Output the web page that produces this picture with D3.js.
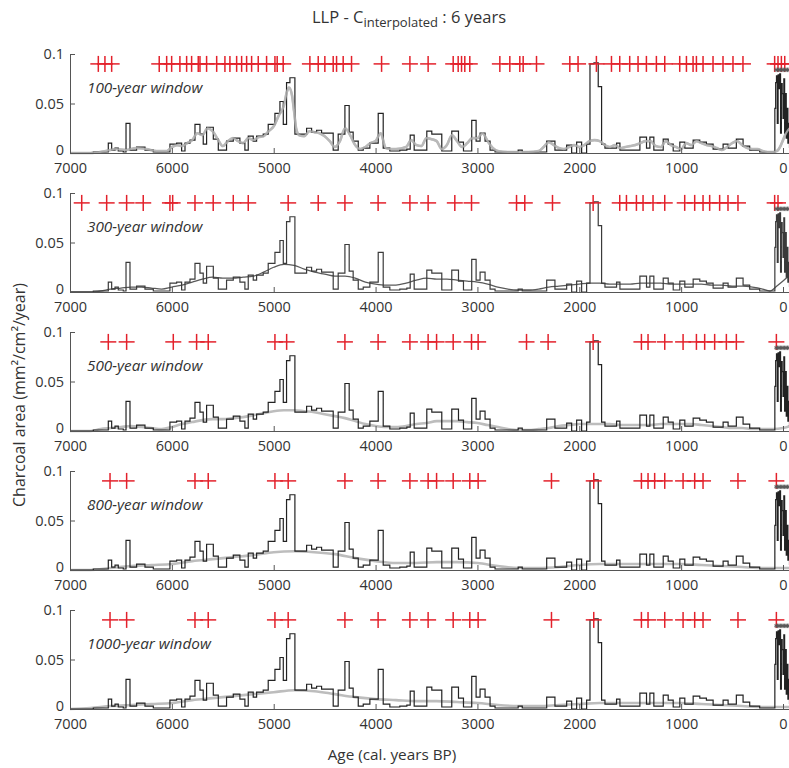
<!DOCTYPE html>
<html lang="en">
<head>
	<meta charset="UTF-8">
	<title>LLP charcoal peaks</title>
	<style>
		* { margin: 0; padding: 0; }
		body { background: #fff; }
		svg { display: block; font-family: "Open Sans", "DejaVu Sans", sans-serif; }
	</style>
</head>
<body>
	<script src="https://cdn.jsdelivr.net/npm/d3@7"></script>
	<script>
		// charcoal accumulation (step series), ages in cal. years BP, oldest first
		var charcoalAges = [7000, 6771, 6624, 6591, 6558, 6526, 6477, 6450, 6411, 6346, 6264, 6182,
			6019, 5953, 5904, 5871, 5822, 5773, 5724, 5692, 5659, 5593, 5544, 5463, 5397, 5332,
			5283, 5250, 5201, 5168, 5103, 5054, 4988, 4939, 4906, 4874, 4841, 4792, 4677, 4628,
			4579, 4530, 4416, 4367, 4301, 4259, 4220, 4170, 4121, 4056, 3974, 3925, 3860, 3762,
			3693, 3660, 3621, 3497, 3448, 3350, 3252, 3186, 3137, 3056, 3013, 2974, 2925, 2876,
			2827, 2600, 2560, 2320, 2239, 2124, 2075, 2026, 1977, 1928, 1895, 1856, 1814, 1781,
			1748, 1634, 1601, 1405, 1340, 1307, 1268, 1176, 1127, 1078, 1013, 964, 882, 817,
			752, 686, 588, 539, 458, 392, 327, 229, 98, 80, 72, 64, 56, 48, 40, 32, 24, 16, 8,
			0, -8, -16, -24, -32, -40, -48, -56, -64];
		var charcoalValues = [0, 0.001, 0.010, 0.003, 0.005, 0.002, 0.001, 0.030, 0.003, 0.006, 0.003, 0.001,
			0.009, 0.010, 0.002, 0.010, 0.013, 0.029, 0.019, 0.009, 0.026, 0.014, 0.003, 0.012, 0.015, 0.010,
			0.003, 0.017, 0.012, 0.017, 0.019, 0.029, 0.040, 0.052, 0.029, 0.071, 0.076, 0.019, 0.025, 0.021,
			0.023, 0.020, 0.003, 0.019, 0.048, 0.021, 0.012, 0.003, 0.005, 0.010, 0.040, 0.005, 0.002, 0.003,
			0.004, 0.018, 0.003, 0.022, 0.019, 0.002, 0.022, 0.011, 0.002, 0.033, 0.012, 0.020, 0.012, 0.003,
			0.001, 0.003, 0.001, 0.012, 0.003, 0.008, 0.000, 0.011, 0.000, 0.009, 0.090, 0.091, 0.067, 0.009,
			0.005, 0.010, 0.003, 0.016, 0.005, 0.016, 0.003, 0.014, 0.009, 0.002, 0.011, 0.005, 0.013, 0.011,
			0.009, 0.004, 0.009, 0.005, 0.014, 0.007, 0.003, 0.001, 0.001, 0.045, 0.071, 0.078, 0.030, 0.079, 0.065, 0.080, 0.020, 0.070, 0.060,
			0.035, 0.075, 0.020, 0.060, 0.015, 0.045, 0.010, 0.030, 0.005];

		// asterisks drawn above the recent spikes
		var recentMarks = [68, 54, 40, 26, 12, -2, -16, -30, -44, -58];

		var windows = ["100-year window", "300-year window", "500-year window", "800-year window", "1000-year window"];

		// background (low-frequency) curves, [age, value]
		var bg100 = [[7000,0],[6800,0],[6650,0.002],[6550,0.004],[6450,0.003],[6350,0.005],[6250,0.004],[6150,0.002],
			[6050,0.002],[6000,0.006],[5950,0.008],[5900,0.007],[5850,0.010],[5800,0.013],[5750,0.020],[5700,0.018],
			[5650,0.025],[5600,0.022],[5550,0.014],[5500,0.007],[5450,0.012],[5400,0.015],[5350,0.012],[5300,0.010],
			[5250,0.015],[5200,0.013],[5150,0.016],[5100,0.017],[5050,0.022],[5000,0.027],[4950,0.038],[4900,0.048],
			[4870,0.062],[4850,0.066],[4820,0.058],[4800,0.042],[4780,0.025],[4750,0.018],[4700,0.017],[4650,0.022],
			[4600,0.021],[4550,0.020],[4500,0.017],[4450,0.012],[4400,0.006],[4350,0.012],[4300,0.025],[4250,0.018],
			[4200,0.008],[4150,0.004],[4100,0.006],[4050,0.010],[4000,0.012],[3950,0.020],[3900,0.005],[3850,0.004],
			[3800,0.004],[3700,0.006],[3650,0.013],[3600,0.008],[3550,0.007],[3500,0.015],[3450,0.014],[3400,0.012],
			[3350,0.004],[3300,0.008],[3250,0.018],[3200,0.012],[3150,0.006],[3100,0.010],[3050,0.015],[3000,0.015],
			[2950,0.020],[2900,0.012],[2850,0.005],[2800,0.002],[2700,0.001],[2600,0.001],[2500,0.001],[2400,0.002],
			[2350,0.006],[2300,0.011],[2250,0.008],[2200,0.005],[2150,0.004],[2100,0.006],[2050,0.008],[2000,0.006],
			[1950,0.008],[1900,0.012],[1850,0.013],[1800,0.012],[1750,0.008],[1700,0.006],[1650,0.008],[1600,0.005],
			[1550,0.006],[1500,0.007],[1450,0.008],[1400,0.010],[1350,0.012],[1300,0.012],[1250,0.007],[1200,0.006],
			[1150,0.012],[1100,0.008],[1050,0.006],[1000,0.004],[950,0.010],[900,0.008],[850,0.012],[800,0.010],
			[750,0.008],[700,0.007],[650,0.005],[600,0.003],[550,0.006],[500,0.010],[450,0.012],[400,0.008],
			[350,0.005],[300,0.004],[250,0.004],[200,0.002],[150,0.001],[100,0.001],[60,0.002],[20,0.008],
			[0,0.013],[-30,0.020],[-65,0.025]];
		var bg300 = [[7000,0],[6800,0],[6700,0.001],[6600,0.003],[6500,0.004],[6400,0.005],[6300,0.005],[6200,0.004],
			[6100,0.003],[6000,0.005],[5900,0.007],[5800,0.010],[5700,0.013],[5600,0.015],[5500,0.014],[5400,0.014],
			[5300,0.015],[5200,0.016],[5100,0.020],[5000,0.025],[4900,0.028],[4800,0.027],[4700,0.023],[4600,0.020],
			[4500,0.018],[4400,0.016],[4300,0.016],[4200,0.014],[4100,0.010],[4000,0.008],[3900,0.007],[3800,0.007],
			[3700,0.009],[3600,0.012],[3500,0.014],[3400,0.013],[3300,0.013],[3200,0.012],[3100,0.011],[3000,0.010],
			[2900,0.008],[2800,0.005],[2700,0.003],[2600,0.002],[2500,0.002],[2400,0.003],[2300,0.005],[2200,0.006],
			[2100,0.007],[2000,0.008],[1900,0.009],[1800,0.009],[1700,0.008],[1600,0.008],[1500,0.008],[1400,0.009],
			[1300,0.009],[1200,0.009],[1100,0.008],[1000,0.008],[900,0.008],[800,0.008],[700,0.007],[600,0.007],
			[500,0.006],[400,0.006],[300,0.005],[200,0.003],[130,0.001],[60,0.006],[0,0.011],[-65,0.017]];
		var bg500 = [[7000,0],[6800,0],[6700,0.002],[6600,0.003],[6500,0.004],[6400,0.005],[6300,0.004],[6200,0.003],
			[6100,0.002],[6000,0.004],[5900,0.007],[5800,0.009],[5700,0.011],[5600,0.012],[5500,0.012],[5400,0.013],
			[5300,0.014],[5200,0.016],[5100,0.018],[5000,0.020],[4900,0.021],[4800,0.021],[4700,0.020],[4600,0.019],
			[4500,0.017],[4400,0.015],[4300,0.013],[4200,0.010],[4100,0.007],[4000,0.005],[3900,0.004],[3800,0.004],
			[3700,0.005],[3600,0.007],[3500,0.008],[3400,0.010],[3300,0.010],[3200,0.010],[3100,0.009],[3000,0.008],
			[2900,0.006],[2800,0.004],[2700,0.002],[2600,0.001],[2500,0.001],[2400,0.002],[2300,0.003],[2200,0.005],
			[2100,0.006],[2000,0.007],[1900,0.007],[1800,0.007],[1700,0.007],[1600,0.006],[1500,0.006],[1400,0.006],
			[1300,0.006],[1200,0.007],[1100,0.007],[1000,0.007],[900,0.007],[800,0.006],[700,0.005],[600,0.004],
			[500,0.003],[400,0.003],[300,0.002],[200,0.002],[100,0.002],[0,0.003],[-65,0.005]];
		var bg800 = [[7000,0],[6800,0],[6600,0.002],[6400,0.004],[6200,0.005],[6000,0.006],[5800,0.009],[5600,0.011],
			[5400,0.013],[5200,0.015],[5000,0.018],[4800,0.019],[4600,0.018],[4400,0.016],[4200,0.012],[4000,0.009],
			[3800,0.007],[3600,0.007],[3400,0.008],[3200,0.008],[3000,0.007],[2800,0.004],[2600,0.002],[2400,0.002],
			[2200,0.003],[2000,0.005],[1800,0.006],[1600,0.006],[1400,0.006],[1200,0.006],[1000,0.006],[800,0.005],
			[600,0.004],[400,0.003],[200,0.002],[0,0.002],[-65,0.002]];
		var bg1000 = [[7000,0],[6800,0.001],[6600,0.003],[6400,0.004],[6200,0.005],[6000,0.006],[5800,0.009],[5600,0.011],
			[5400,0.013],[5200,0.015],[5000,0.017],[4800,0.019],[4600,0.018],[4400,0.015],[4200,0.012],[4000,0.010],
			[3800,0.009],[3600,0.008],[3400,0.008],[3200,0.007],[3000,0.006],[2800,0.004],[2600,0.003],[2400,0.003],
			[2200,0.004],[2000,0.005],[1800,0.006],[1600,0.006],[1400,0.006],[1200,0.006],[1000,0.006],[800,0.005],
			[600,0.004],[400,0.003],[200,0.002],[0,0.002],[-65,0.002]];

		// detected peaks (red crosses), ages
		var peaks100 = [6722, 6657, 6591, 6124, 6051, 6002, 5921, 5855, 5806, 5741, 5724, 5659, 5560, 5479, 5430,
			5364, 5315, 5266, 5217, 5152, 5070, 4988, 4966, 4907, 4645, 4563, 4498, 4416, 4383, 4318, 4236, 3941,
			3663, 3484, 3238, 3189, 3156, 3124, 3075, 2780, 2682, 2584, 2551, 2420, 2093, 2012, 1832, 1684, 1603,
			1505, 1423, 1341, 1243, 1161, 1014, 948, 883, 850, 785, 687, 589, 491, 393, 82, 49, 16, -17];
		var peaks300 = [6885, 6640, 6444, 6281, 6019, 5992, 5773, 5594, 5397, 5250, 4858, 4563, 4301, 3975, 3663,
			3484, 3222, 3058, 2616, 2535, 2263, 1864, 1603, 1537, 1439, 1374, 1276, 1161, 965, 867, 785, 720, 622,
			540, 442, 82, 49];
		var peaks500 = [6624, 6444, 5986, 5757, 5643, 4988, 4873, 4301, 3975, 3663, 3484, 3401, 3238, 3058, 2993,
			2518, 2306, 1864, 1390, 1325, 1161, 981, 850, 769, 671, 556, 458, 65];
		var peaks800 = [6607, 6444, 5773, 5643, 4988, 4858, 4301, 3975, 3663, 3484, 3401, 3238, 3075, 2993, 2273,
			1858, 1390, 1325, 1260, 1161, 981, 867, 785, 442, 65];
		var peaks1000 = [6607, 6444, 5773, 5643, 4988, 4858, 4301, 3975, 3663, 3484, 3238, 3075, 2993, 2273, 1858,
			1390, 1325, 1161, 981, 867, 785, 442, 65];

		var xTicks = [7000, 6000, 5000, 4000, 3000, 2000, 1000, 0];
		var yTicks = [0, 0.05, 0.1];

		var width = 789, height = 768;
		var plotLeft = 70, plotRight = 783;
		var panelTop = 54, panelHeight = 99, panelStep = 139;

		var backgrounds = [bg100, bg300, bg500, bg800, bg1000];
		var peakSets = [peaks100, peaks300, peaks500, peaks800, peaks1000];
		var bgStyle = [
			{ color: '#b9b9b9', w: 2.6 },
			{ color: '#5a5a5a', w: 1.3 },
			{ color: '#bdbdbd', w: 2.6 },
			{ color: '#bdbdbd', w: 2.6 },
			{ color: '#bdbdbd', w: 2.6 }
		];

		var charcoal = charcoalAges.map(function (a, i) { return [a, charcoalValues[i]]; });

		var svg = d3.select('body').append('svg').attr('width', width).attr('height', height);

		var x = d3.scaleLinear().domain([7000, 0]).range([plotLeft, plotRight]);
		var star = d3.symbol().type(d3.symbolAsterisk).size(14);

		windows.forEach(function (label, p) {
			var top = panelTop + p * panelStep;
			var y = d3.scaleLinear().domain([0, 0.1]).range([top + panelHeight, top]);
			var g = svg.append('g');
			var bgLine = d3.line().curve(d3.curveMonotoneX)
				.x(function (d) { return x(d[0]); })
				.y(function (d) { return y(d[1]); });

			// background curve
			g.append('path')
				.datum(backgrounds[p])
				.attr('fill', 'none')
				.attr('stroke', bgStyle[p].color)
				.attr('stroke-width', bgStyle[p].w)
				.attr('stroke-linejoin', 'round')
				.attr('d', bgLine);

			// charcoal series
			g.append('path')
				.datum(charcoal)
				.attr('fill', 'none')
				.attr('stroke', p === 1 ? '#3a3a3a' : '#222')
				.attr('stroke-width', 1.2)
				.attr('d', d3.line().curve(d3.curveStepAfter)
					.x(function (d) { return x(d[0]); })
					.y(function (d) { return y(d[1]); }));

			// in the 100-year panel the grey curve sits on top
			if (p === 0) {
				g.append('path')
					.datum(backgrounds[p])
					.attr('fill', 'none')
					.attr('stroke', bgStyle[p].color)
					.attr('stroke-width', 2.2)
					.attr('opacity', 0.8)
					.attr('d', bgLine);
			}

			// peaks
			var cross = g.selectAll('g.peak').data(peakSets[p]).enter().append('g')
				.attr('transform', function (d) { return 'translate(' + x(d) + ',' + y(0.09) + ')'; });
			cross.append('line').attr('x1', -8).attr('x2', 8).attr('y1', 0).attr('y2', 0);
			cross.append('line').attr('x1', 0).attr('x2', 0).attr('y1', -8).attr('y2', 8);
			cross.selectAll('line').attr('stroke', '#e3212b').attr('stroke-width', 1.5);

			// asterisks on the recent spikes
			g.selectAll('path.star').data(recentMarks).enter().append('path')
				.attr('class', 'star')
				.attr('transform', function (d) { return 'translate(' + x(d) + ',' + y(0.084) + ')'; })
				.attr('d', star)
				.attr('fill', 'none')
				.attr('stroke', '#555')
				.attr('stroke-width', 0.8);

			// axes
			var yAxis = g.append('g')
				.attr('transform', 'translate(' + plotLeft + ',0)')
				.call(d3.axisLeft(y).tickValues(yTicks).tickSizeInner(-5).tickSizeOuter(0).tickPadding(6)
					.tickFormat(function (d) { return String(d); }));
			var xAxis = g.append('g')
				.attr('transform', 'translate(0,' + (top + panelHeight) + ')')
				.call(d3.axisBottom(x).tickValues(xTicks).tickSizeInner(-5).tickSizeOuter(0).tickPadding(10)
					.tickFormat(d3.format('d')));
			[yAxis, xAxis].forEach(function (a) {
				a.selectAll('path, line').attr('stroke', '#555');
				a.selectAll('text').attr('fill', '#333').attr('font-size', 14.5)
					.attr('font-family', '"Open Sans", sans-serif');
			});
			// lift the "0" label a little so it clears the "7000" below
			yAxis.selectAll('.tick text').filter(function (d) { return d === 0; }).attr('y', -3);
			xAxis.select('path.domain').attr('d', 'M' + plotLeft + ',0.5H' + width);

			// window label
			g.append('text')
				.attr('x', 87)
				.attr('y', top + 39)
				.attr('font-size', 15.3)
				.attr('font-style', 'italic')
				.attr('fill', '#333')
				.text(label);
		});

		// title
		var title = svg.append('text')
			.attr('x', 409)
			.attr('y', 23)
			.attr('text-anchor', 'middle')
			.attr('font-size', 16.5)
			.attr('fill', '#333');
		title.append('tspan').text('LLP - C');
		title.append('tspan').attr('font-size', 13).attr('dy', 4).text('interpolated');
		title.append('tspan').attr('dy', -4).text(' : 6 years');

		// axis titles
		svg.append('text')
			.attr('transform', 'translate(25,' + 395 + ') rotate(-90)')
			.attr('text-anchor', 'middle')
			.attr('font-size', 16)
			.attr('fill', '#333')
			.text('Charcoal area (mm²/cm²/year)');

		svg.append('text')
			.attr('x', 392)
			.attr('y', 760)
			.attr('text-anchor', 'middle')
			.attr('font-size', 15.3)
			.attr('fill', '#333')
			.text('Age (cal. years BP)');
	</script>
</body>
</html>
